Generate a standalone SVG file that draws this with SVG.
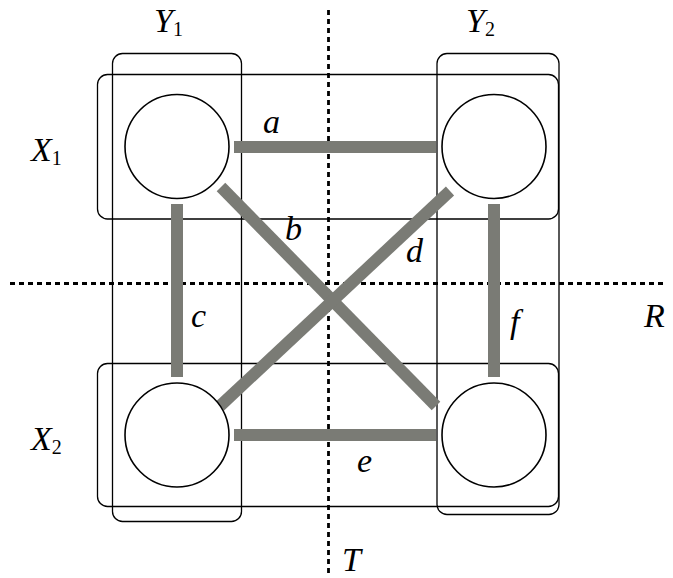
<svg xmlns="http://www.w3.org/2000/svg" width="673" height="578" viewBox="0 0 673 578">
<style>
.box{fill:none;stroke:#000;stroke-width:1.3}
.node{fill:#fff;stroke:#000;stroke-width:1.6}
.edge{stroke:#7a7b75;stroke-width:12;fill:none}
.axis{stroke:#000;stroke-width:2.8;stroke-dasharray:5 4;fill:none}
text{font-family:"Liberation Serif","Times New Roman",serif;font-style:italic;font-size:34px;fill:#000}
.sub{font-style:normal;font-size:20px}
</style>
<rect width="673" height="578" fill="#fff"/>
<g id="groups">
<rect id="X1" class="box" x="97.5" y="74.5" width="461" height="144.5" rx="10"/>
<rect id="X2" class="box" x="97.5" y="363.5" width="461" height="143" rx="10"/>
<rect id="Y1" class="box" x="112.5" y="53.5" width="129" height="468" rx="10"/>
<rect id="Y2" class="box" x="437" y="53.5" width="122" height="461" rx="10"/>
</g>
<g id="axes">
<line class="axis" x1="328.5" y1="10" x2="328.5" y2="573"/>
<line class="axis" x1="10" y1="283.5" x2="664" y2="283.5"/>
</g>
<g id="connectors">
<line id="a" class="edge" x1="234" y1="147" x2="436" y2="147"/>
<line id="e" class="edge" x1="234" y1="435" x2="436" y2="435"/>
<line id="c" class="edge" x1="177" y1="204" x2="177" y2="377"/>
<line id="f" class="edge" x1="494" y1="204" x2="494" y2="377"/>
<line id="b" class="edge" x1="221" y1="187" x2="436" y2="406"/>
<line id="d" class="edge" x1="450" y1="191" x2="220" y2="406"/>
</g>
<g id="n11"><circle class="node" cx="177" cy="146.5" r="52"/></g>
<g id="n12"><circle class="node" cx="494" cy="146.5" r="52"/></g>
<g id="n21"><circle class="node" cx="177" cy="435" r="52"/></g>
<g id="n22"><circle class="node" cx="494" cy="435" r="52"/></g>
<g id="labels">
<text x="154" y="32">Y<tspan class="sub" dy="4">1</tspan></text>
<text x="466" y="32">Y<tspan class="sub" dy="4">2</tspan></text>
<text x="31" y="161">X<tspan class="sub" dy="4">1</tspan></text>
<text x="31" y="450">X<tspan class="sub" dy="4">2</tspan></text>
<text x="263" y="133">a</text>
<text x="285" y="240">b</text>
<text x="191" y="327">c</text>
<text x="406" y="262">d</text>
<text x="357" y="472">e</text>
<text x="510" y="333">f</text>
<text x="644" y="327">R</text>
<text x="342" y="571">T</text>
</g>
</svg>
